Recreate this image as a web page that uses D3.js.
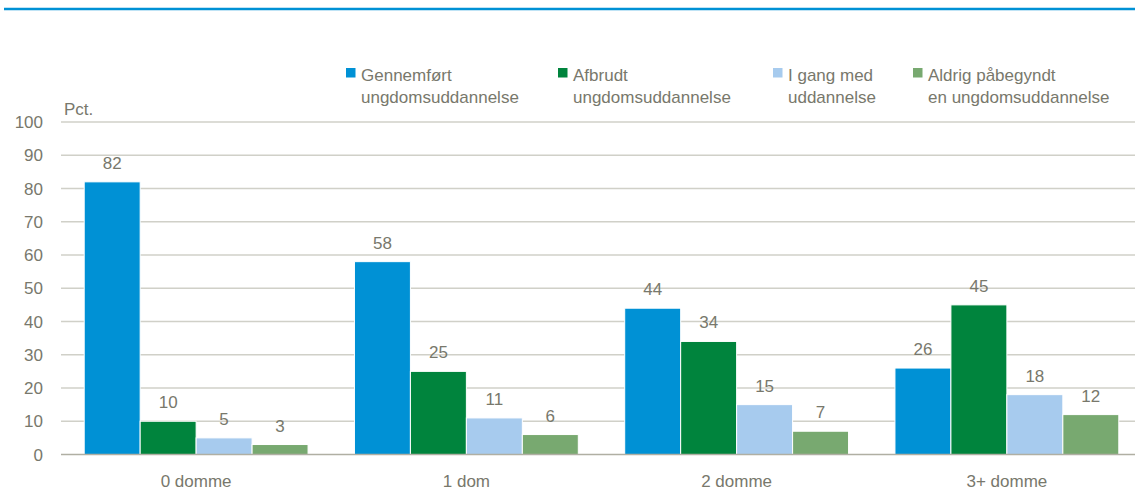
<!DOCTYPE html>
<html>
<head>
<meta charset="utf-8">
<script src="https://cdn.jsdelivr.net/npm/d3@7"></script>
<style>
  body { margin: 0; background: #fff; }
  text { font-family: "Liberation Sans", Arial, sans-serif; fill: #78786c; }
</style>
</head>
<body>
<div id="chart"></div>
<script>
var categories = ["0 domme", "1 dom", "2 domme", "3+ domme"];
var seriesNames = [
    ["Gennemført", "ungdomsuddannelse"],
    ["Afbrudt", "ungdomsuddannelse"],
    ["I gang med", "uddannelse"],
    ["Aldrig påbegyndt", "en ungdomsuddannelse"]
];
var gennemfoert = [82, 58, 44, 26];
var afbrudt = [10, 25, 34, 45];
var iGang = [5, 11, 15, 18];
var aldrig = [3, 6, 7, 12];
var yTicks = [0, 10, 20, 30, 40, 50, 60, 70, 80, 90, 100];
var colors = ["#0091d5", "#00843d", "#a7cbee", "#78a970"];

var series = [gennemfoert, afbrudt, iGang, aldrig];

var W = 1135, H = 493;
var margin = {top: 122, right: -7, bottom: 38.5, left: 61},
    width = W - margin.left - margin.right,
    height = H - margin.top - margin.bottom;

var svg = d3.select("#chart").append("svg")
    .attr("width", W)
    .attr("height", H);

// blue rule at the top
svg.append("line")
    .attr("x1", 4).attr("x2", W)
    .attr("y1", 9).attr("y2", 9)
    .attr("stroke", "#0091d5")
    .attr("stroke-width", 2.5);

var g = svg.append("g")
    .attr("transform", "translate(" + margin.left + "," + margin.top + ")");

var x0 = d3.scaleBand().domain(categories).range([0, width])
    .paddingInner(0).paddingOuter(0);
var x1 = d3.scaleBand().domain(d3.range(series.length))
    .range([23.2, x0.bandwidth() - 23.2]);
var y = d3.scaleLinear().domain([0, 100]).range([height, 0]);

// gridlines
g.selectAll(".grid")
    .data(yTicks.filter(d => d > 0))
    .enter().append("line")
    .attr("x1", 0).attr("x2", width)
    .attr("y1", d => y(d)).attr("y2", d => y(d))
    .attr("stroke", "#d0d0c8")
    .attr("stroke-width", 1.3);

// y tick labels
g.selectAll(".ylab")
    .data(yTicks)
    .enter().append("text")
    .attr("x", -18)
    .attr("y", d => y(d))
    .attr("dy", "0.36em")
    .attr("text-anchor", "end")
    .style("font-size", "17px")
    .text(d => d);

g.append("text")
    .attr("x", 3)
    .attr("y", -7)
    .style("font-size", "17px")
    .text("Pct.");

// bars
var groups = g.selectAll(".cat")
    .data(categories)
    .enter().append("g")
    .attr("transform", d => "translate(" + x0(d) + ",0)");

groups.selectAll("rect")
    .data((c, i) => series.map((s, k) => ({k: k, v: s[i]})))
    .enter().append("rect")
    .attr("x", d => x1(d.k))
    .attr("y", d => y(d.v))
    .attr("width", x1.bandwidth())
    .attr("height", d => y(0) - y(d.v))
    .attr("fill", d => colors[d.k])
    .attr("stroke", "#fff")
    .attr("stroke-width", 1);

groups.selectAll(".val")
    .data((c, i) => series.map((s, k) => ({k: k, v: s[i]})))
    .enter().append("text")
    .attr("x", d => x1(d.k) + x1.bandwidth() / 2)
    .attr("y", d => y(d.v) - 13)
    .attr("text-anchor", "middle")
    .style("font-size", "17px")
    .text(d => d.v);

// zero axis
g.append("line")
    .attr("x1", 0).attr("x2", width)
    .attr("y1", y(0)).attr("y2", y(0))
    .attr("stroke", "#b0afa3")
    .attr("stroke-width", 1.5);

// category labels
g.selectAll(".xlab")
    .data(categories)
    .enter().append("text")
    .attr("x", d => x0(d) + x0.bandwidth() / 2)
    .attr("y", height + 32)
    .attr("text-anchor", "middle")
    .style("font-size", "17px")
    .text(d => d);

// legend
var legX = [346, 558, 773, 913];
var leg = svg.selectAll(".leg")
    .data(seriesNames)
    .enter().append("g")
    .attr("transform", (d, i) => "translate(" + legX[i] + ",0)");

leg.append("rect")
    .attr("x", 0).attr("y", 68)
    .attr("width", 9.5).attr("height", 9.5)
    .attr("fill", (d, i) => colors[i]);

leg.append("text")
    .attr("x", 15)
    .attr("y", 81)
    .style("font-size", "17px")
    .text(d => d[0]);

leg.append("text")
    .attr("x", 15)
    .attr("y", 103)
    .style("font-size", "17px")
    .text(d => d[1]);
</script>
</body>
</html>
